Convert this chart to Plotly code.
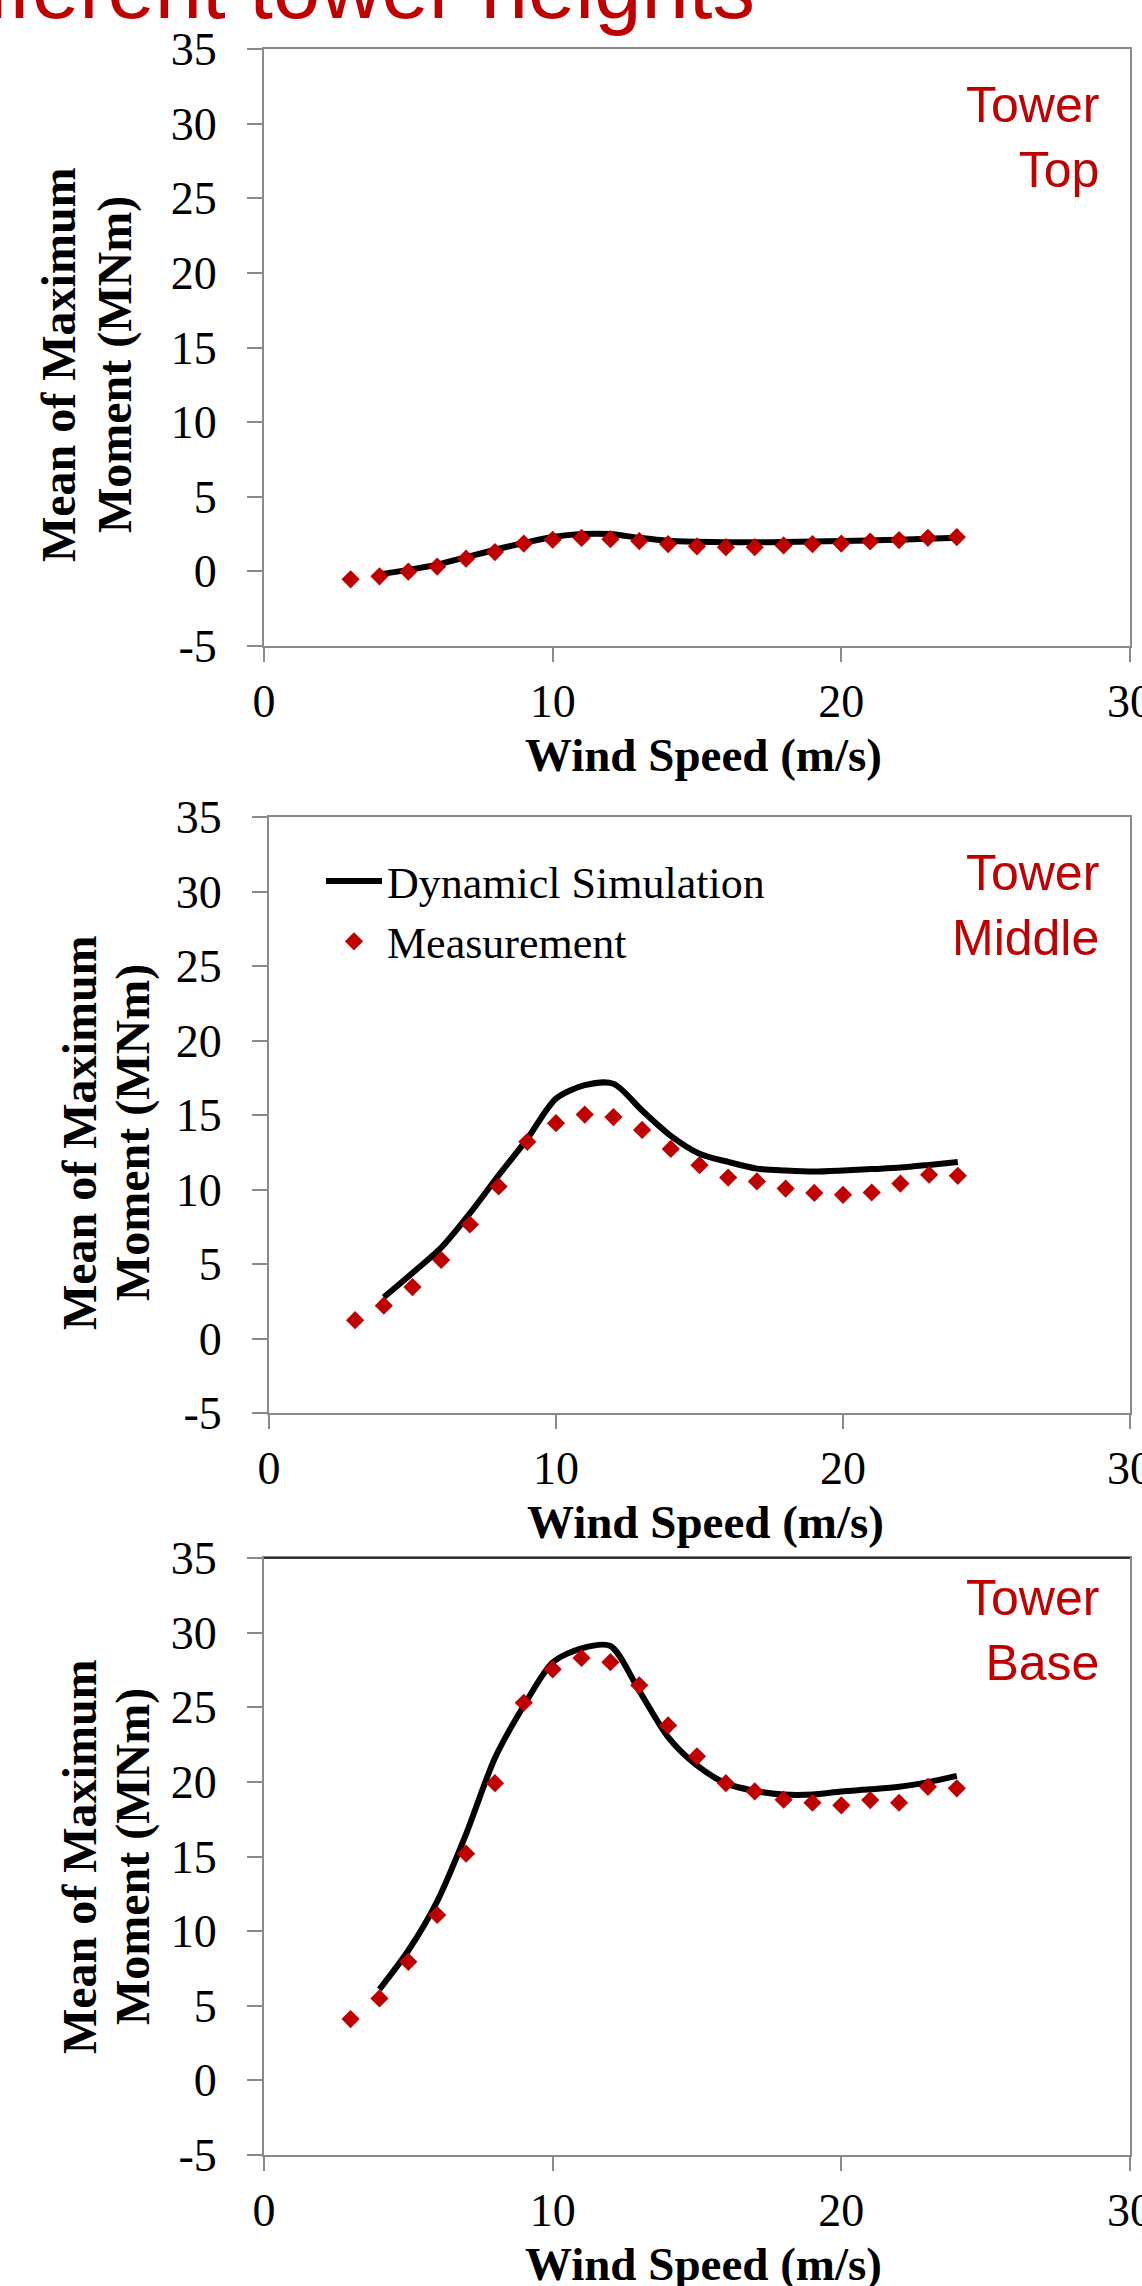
import plotly.graph_objects as go

W, H = 1142, 2286

# ---------------- data ----------------
wind_meas = [3, 4, 5, 6, 7, 8, 9, 10, 11, 12, 13, 14, 15, 16, 17, 18, 19, 20, 21, 22, 23, 24]
wind_sim = [4, 5, 6, 7, 8, 9, 10, 11, 12, 13, 14, 15, 16, 17, 18, 19, 20, 21, 22, 23, 24]

top_meas = [-0.53, -0.33, -0.02, 0.32, 0.85, 1.29, 1.86, 2.12, 2.24, 2.16, 2.03, 1.83, 1.68, 1.62, 1.62, 1.74, 1.83, 1.86, 2.0, 2.1, 2.25, 2.3]
top_sim = [-0.2, 0.1, 0.45, 0.95, 1.45, 1.9, 2.3, 2.5, 2.5, 2.25, 2.05, 1.98, 1.95, 1.95, 1.97, 2.0, 2.03, 2.07, 2.12, 2.18, 2.25]

mid_meas = [1.23, 2.2, 3.45, 5.27, 7.65, 10.2, 13.2, 14.45, 15.03, 14.86, 14.0, 12.72, 11.63, 10.8, 10.54, 10.06, 9.77, 9.64, 9.8, 10.4, 10.99, 10.92]
mid_sim = [2.77, 4.4, 6.1, 8.4, 10.95, 13.4, 16.1, 17.0, 17.1, 15.3, 13.6, 12.4, 11.85, 11.4, 11.27, 11.2, 11.27, 11.37, 11.47, 11.65, 11.85]

base_meas = [4.11, 5.49, 7.94, 11.08, 15.19, 19.91, 25.3, 27.54, 28.3, 28.02, 26.47, 23.78, 21.71, 19.91, 19.36, 18.81, 18.6, 18.43, 18.78, 18.6, 19.67, 19.57]
base_sim = [6.1, 8.7, 12.0, 16.5, 21.6, 25.1, 28.0, 28.95, 29.1, 26.1, 23.0, 21.1, 19.9, 19.4, 19.15, 19.15, 19.36, 19.5, 19.67, 19.98, 20.4]

panel_labels = ["Tower<br>Top", "Tower<br>Middle", "Tower<br>Base"]
x_title = "Wind Speed (m/s)"
y_title_lines = ["Mean of Maximum", "Moment (MNm)"]
sim_name = "Dynamicl Simulation"
meas_name = "Measurement"
page_title = "Different tower heights"

x_ticks = [0, 10, 20, 30]
x_tick_text = ["0", "10", "20", "30"]
y_ticks = [-5, 0, 5, 10, 15, 20, 25, 30, 35]
y_tick_text = ["-5", "0", "5", "10", "15", "20", "25", "30", "35"]

# ---------------- layout helpers ----------------
def fx(px):
    return px / W

def fy(py):
    return 1 - py / H

# panel boxes in pixels: (left, right, top, bottom)
boxes = [(264, 1130, 49, 646), (269, 1130, 817, 1413), (264, 1130, 1558, 2155)]

RED = "#C00000"
GRAY = "#8A8A8A"
SERIF = "Liberation Serif"
SANS = "Liberation Sans"

fig = go.Figure()

series = [(top_sim, top_meas), (mid_sim, mid_meas), (base_sim, base_meas)]
for i, (sim, meas) in enumerate(series):
    ax = "" if i == 0 else str(i + 1)
    fig.add_trace(go.Scatter(
        x=wind_sim, y=sim, mode="lines", name=sim_name,
        line=dict(color="black", width=6, shape="spline", smoothing=0.8),
        xaxis="x" + ax, yaxis="y" + ax, showlegend=(i == 1)))
    fig.add_trace(go.Scatter(
        x=wind_meas, y=meas, mode="markers", name=meas_name,
        marker=dict(symbol="diamond", size=14, color=RED, line=dict(width=0)),
        xaxis="x" + ax, yaxis="y" + ax, showlegend=(i == 1)))

layout = dict(
    width=W, height=H, autosize=False,
    margin=dict(l=0, r=0, t=0, b=0, pad=0, autoexpand=False),
    paper_bgcolor="white", plot_bgcolor="white",
    showlegend=True,
    legend=dict(
        x=fx(321), y=fy(846), xanchor="left", yanchor="top",
        font=dict(family=SERIF, size=44, color="black"),
        bgcolor="rgba(0,0,0,0)", itemwidth=56, tracegroupgap=0,
    ),
)

annotations = []
shapes = []
for i, (l, r, t, b) in enumerate(boxes):
    sfx = "" if i == 0 else str(i + 1)
    layout["xaxis" + sfx] = dict(
        domain=[fx(l), fx(r)], range=[0, 30],
        tickvals=x_ticks, ticktext=x_tick_text,
        anchor="y" + sfx, showgrid=False, zeroline=False,
        showline=True, linecolor=GRAY, linewidth=2, mirror=True,
        ticks="outside", ticklen=14, tickcolor=GRAY, tickwidth=2,
        tickfont=dict(family=SERIF, size=46, color="black"),
        ticklabelstandoff=0, ticklabeloverflow="allow", automargin=False,
    )
    layout["yaxis" + sfx] = dict(
        domain=[fy(b), fy(t)], range=[-5, 35],
        tickvals=y_ticks, ticktext=y_tick_text,
        anchor="x" + sfx, showgrid=False, zeroline=False,
        showline=True, linecolor=GRAY, linewidth=2, mirror=True,
        ticks="outside", ticklen=15, tickcolor=GRAY, tickwidth=2,
        tickfont=dict(family=SERIF, size=46, color="black"),
        ticklabelstandoff=21, ticklabeloverflow="allow", automargin=False,
    )
    # x axis title
    annotations.append(dict(
        text="<b>" + x_title + "</b>", xref="paper", yref="paper",
        x=fx((l + r) / 2 + 6), y=fy(b + 109), xanchor="center", yanchor="middle",
        showarrow=False, font=dict(family=SERIF, size=47, color="black")))
    # tower label
    label_center = [137, 905, 1630][i]
    annotations.append(dict(
        text=panel_labels[i], xref="paper", yref="paper",
        x=fx(1101), y=fy(label_center), xanchor="right", yanchor="middle",
        align="right", showarrow=False, font=dict(family=SANS, size=50, color=RED)))
    # y axis title: two separately placed lines
    ycen = [365, 1133, 1857][i]
    xline = [(58, 115), (79, 133), (79, 133)][i]
    for k in range(2):
        annotations.append(dict(
            text="<b>" + y_title_lines[k] + "</b>", xref="paper", yref="paper",
            x=fx(xline[k]), y=fy(ycen), xanchor="center", yanchor="middle",
            textangle=-90, showarrow=False,
            font=dict(family=SERIF, size=48, color="black")))

# top border of bottom panel is black
shapes.append(dict(type="line", xref="x3 domain", yref="y3 domain",
                   x0=0, x1=1, y0=1, y1=1, line=dict(color="black", width=1.5)))

# partially visible slide title at the very top
annotations.append(dict(
    text=page_title, xref="paper", yref="paper",
    x=fx(757), y=fy(-11), xanchor="right", yanchor="middle",
    showarrow=False, font=dict(family=SANS, size=85, color=RED)))

layout["annotations"] = annotations
layout["shapes"] = shapes
fig.update_layout(**layout)

fig.write_html("out.html")
